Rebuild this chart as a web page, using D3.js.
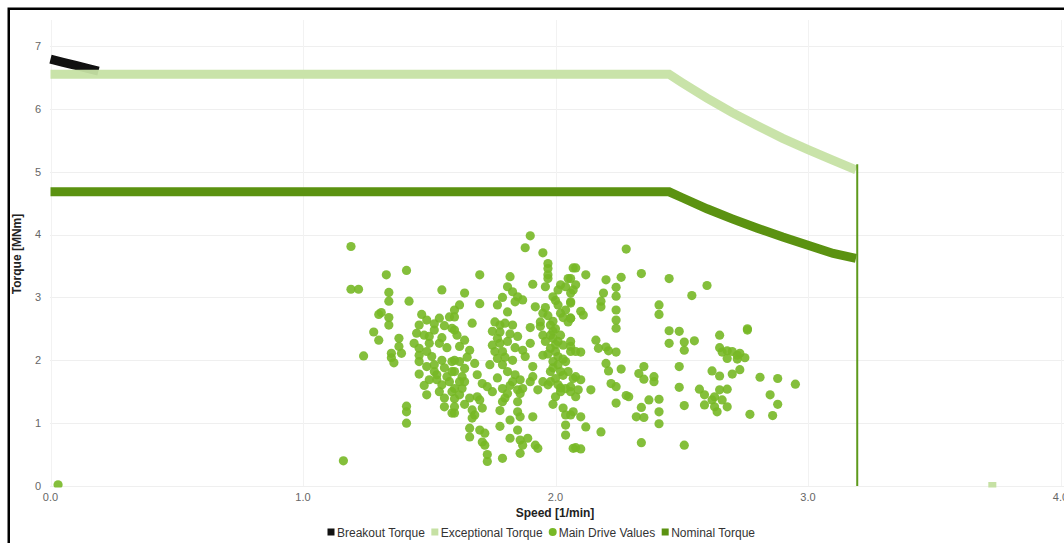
<!DOCTYPE html>
<html>
<head>
<meta charset="utf-8">
<script src="https://cdn.jsdelivr.net/npm/d3@7"></script>
<style>
  body { margin: 0; background: #fff; }
  text { font-family: "Liberation Sans", Arial, sans-serif; }
</style>
</head>
<body>
<div id="chart"></div>
<script>
// curve data
var breakoutSpeed = [0, 0.05, 0.1, 0.15, 0.19];
var breakoutTorque = [6.79, 6.74, 6.69, 6.64, 6.6];

var exceptionalSpeed = [0, 2.45, 2.5, 2.6, 2.7, 2.8, 2.9, 3.0, 3.1, 3.19];
var exceptionalTorque = [6.55, 6.55, 6.42, 6.17, 5.94, 5.73, 5.53, 5.35, 5.18, 5.03];
var exceptionalExtra = [[3.73, 0]];

var nominalSpeed = [0, 2.45, 2.5, 2.6, 2.7, 2.8, 2.9, 3.0, 3.1, 3.19];
var nominalTorque = [4.68, 4.68, 4.59, 4.41, 4.25, 4.10, 3.96, 3.83, 3.70, 3.62];
var limitLine = [[3.195, 0], [3.195, 5.12]];

var mainDrive = [
  [0.03,0.02],
  [1.19,3.81],[1.33,3.36],[1.41,3.43],[1.19,3.13],[1.22,3.13],[1.34,3.08],[1.34,2.94],[1.42,2.94],[1.55,3.12],[1.30,2.73],[1.31,2.76],[1.34,2.68],[1.34,2.56],[1.28,2.45],[1.30,2.32],[1.38,2.35],[1.24,2.07],[1.38,2.22],[1.35,2.11],[1.39,2.11],[1.35,2.04],[1.36,1.96],[1.41,1.27],[1.41,1.18],[1.41,1.00],[1.16,0.40],
  [1.47,2.73],[1.49,2.64],[1.46,2.56],[1.45,2.43],[1.48,2.40],[1.52,2.48],[1.54,2.67],[1.58,2.69],[1.59,2.51],[1.54,2.27],[1.50,2.27],[1.44,2.27],[1.46,2.19],[1.46,2.08],[1.46,1.98],[1.51,2.06],[1.52,1.93],[1.52,1.82],[1.46,1.78],[1.50,1.69],[1.53,1.69],[1.55,1.61],[1.59,1.98],[1.59,1.82],[1.58,1.66],[1.59,1.50],[1.54,1.50],[1.49,1.45],[1.56,1.40],[1.56,1.26],[1.59,1.16],
  [1.52,2.58],[1.56,2.55],[1.50,2.38],[1.55,2.36],[1.57,2.20],[1.49,2.14],[1.55,2.00],[1.49,1.90],[1.56,1.88],[1.48,1.60],[1.53,1.77],[1.57,1.74],
  [1.90,3.98],[1.88,3.79],[1.95,3.71],[1.97,3.54],[1.97,3.46],[2.07,3.47],[1.70,3.36],[1.82,3.33],[1.91,3.21],[1.97,3.36],[1.97,3.30],[1.96,3.17],[2.05,3.30],[2.02,3.20],[2.01,3.12],[2.04,3.17],[2.06,3.07],[1.64,3.07],[1.81,3.17],[1.83,3.09],[1.85,3.01],[1.84,2.93],[1.87,2.96],[1.79,3.00],[1.77,2.88],[1.81,2.77],[1.70,2.90],[1.62,2.88],[1.60,2.80],[1.60,2.69],[1.67,2.59],[1.90,2.52],[1.92,2.85],[1.95,2.75],[1.94,2.61],[1.99,3.01],[2.01,2.88],[2.02,2.75],[2.04,2.80],[2.06,2.91],[2.06,2.67],[2.05,2.61],
  [1.60,2.48],[1.61,2.40],[1.64,2.32],[1.66,2.16],[1.62,2.22],[1.60,2.00],[1.62,1.98],[1.64,1.87],[1.60,1.82],[1.63,1.74],[1.62,1.66],[1.64,1.66],[1.60,1.55],[1.62,1.45],[1.60,1.39],[1.60,1.26],[1.60,1.16],
  [1.65,2.05],[1.63,1.55],[1.66,1.40],[1.64,1.30],[1.68,1.95],
  [1.69,1.77],[1.71,1.63],[1.73,1.58],[1.69,1.42],[1.70,1.37],[1.67,1.21],[1.68,1.13],[1.71,1.24],[1.67,1.08],
  [1.66,0.92],[1.66,0.78],[1.70,0.89],[1.72,0.84],[1.71,0.70],[1.72,0.65],[1.73,0.50],[1.73,0.39],[1.79,0.44],
  [1.76,2.61],[1.78,2.56],[1.80,2.59],[1.83,2.56],[1.75,2.46],[1.77,2.35],[1.75,2.24],[1.78,2.27],[1.81,2.30],[1.85,2.38],[1.79,2.14],[1.77,2.03],[1.74,1.93],[1.79,1.93],[1.83,2.00],[1.81,1.82],[1.84,1.77],[1.86,1.69],[1.79,1.55],[1.81,1.47],[1.85,1.53],[1.87,1.55],[1.90,1.66],[1.91,1.74],[1.87,2.16],[1.90,2.27],[1.88,2.06],[1.91,1.90],[1.83,1.66],[1.85,1.34],[1.86,1.47],[1.79,1.34],[1.85,1.18],[1.86,1.10],[1.91,1.10],[1.85,0.89],[1.86,0.73],[1.82,0.76],[1.87,0.65],[1.86,0.52],[1.89,0.76],[1.92,0.65],[1.93,0.60],
  [1.78,2.45],[1.82,2.42],[1.76,2.14],[1.80,2.05],[1.84,2.20],[1.77,1.72],[1.82,1.60],[1.75,1.50],[1.80,1.40],[1.78,1.20],[1.82,1.05],[1.78,0.95],
  [1.98,2.56],[1.99,2.46],[1.99,2.35],[2.01,2.30],[1.98,2.19],[2.00,2.14],[2.01,2.06],[1.99,1.98],[2.01,1.93],[2.02,1.82],[1.98,1.82],[2.00,1.71],[2.01,1.61],[2.02,1.50],[1.97,1.61],[1.95,1.66],[1.93,1.53],[1.95,2.08],[1.95,2.40],[1.96,2.30],[2.03,2.24],[2.06,2.30],[2.06,2.14],[2.04,1.98],[2.05,1.82],[2.07,1.71],[2.04,1.55],[2.06,1.50],[2.03,1.24],[2.04,1.13],[2.04,0.97],[2.04,0.81],[2.07,1.18],[2.07,0.60],[1.94,2.54],
  [1.99,2.62],[2.00,2.50],[1.98,2.40],[2.02,2.40],[2.00,2.25],[1.97,2.10],[2.03,2.02],[1.99,1.88],[2.03,1.76],[1.98,1.66],[2.02,1.56],[1.97,2.71],[2.03,2.68],[2.00,2.95],[1.96,2.84],[2.00,1.42],[1.99,1.30],
  [2.28,3.77],[2.08,3.47],[2.12,3.36],[2.06,3.30],[2.08,3.20],[2.07,3.12],[2.20,3.28],[2.26,3.32],[2.24,3.16],[2.24,3.02],[2.19,3.07],[2.18,2.94],[2.18,2.85],[2.34,3.38],[2.45,3.30],[2.54,3.03],[2.41,2.88],[2.41,2.73],[2.06,2.93],[2.10,2.78],[2.11,2.72],[2.06,2.67],[2.24,2.80],[2.24,2.64],[2.24,2.51],[2.45,2.47],[2.49,2.46],[2.45,2.27],[2.51,2.29],[2.55,2.31],[2.51,2.16],[2.16,2.32],[2.17,2.19],[2.20,2.21],[2.21,2.15],[2.24,2.13],[2.06,2.22],[2.08,2.14],[2.10,2.13],[2.20,1.95],[2.21,1.83],[2.26,1.86],[2.35,1.90],[2.33,1.79],[2.35,1.70],[2.39,1.66],[2.39,1.74],[2.49,1.90],[2.49,1.57],[2.08,1.74],[2.10,1.69],[2.06,1.58],[2.09,1.53],[2.08,1.42],[2.14,1.53],[2.22,1.63],[2.24,1.58],[2.24,1.32],[2.28,1.44],[2.29,1.42],[2.37,1.37],[2.41,1.38],[2.34,1.25],[2.41,1.18],[2.32,1.10],[2.35,1.09],[2.41,0.99],[2.51,1.28],[2.06,1.13],[2.10,1.10],[2.12,0.94],[2.18,0.86],[2.08,0.61],[2.10,0.59],[2.34,0.69],[2.51,0.65],
  [2.60,3.19],[2.76,2.48],[2.76,2.50],[2.65,2.40],[2.65,2.20],[2.66,2.13],[2.68,2.15],[2.70,2.14],[2.73,2.11],[2.68,2.03],[2.72,2.02],[2.75,2.04],[2.72,2.08],[2.62,1.83],[2.65,1.75],[2.73,1.85],[2.70,1.78],[2.81,1.73],[2.88,1.71],[2.95,1.62],[2.57,1.54],[2.59,1.45],[2.63,1.42],[2.65,1.53],[2.68,1.54],[2.62,1.37],[2.66,1.37],[2.59,1.29],[2.63,1.26],[2.64,1.18],[2.68,1.26],[2.85,1.45],[2.88,1.30],[2.77,1.14],[2.86,1.12]
];

var xTicks = [0, 1, 2, 3, 4];
var yTicks = [0, 1, 2, 3, 4, 5, 6, 7];
var legendNames = ["Breakout Torque", "Exceptional Torque", "Main Drive Values", "Nominal Torque"];

var width = 1064,
    height = 543;

var colors = {
  "Breakout Torque": "#111111",
  "Exceptional Torque": "#c6e1a4",
  "Main Drive Values": "#77b826",
  "Nominal Torque": "#5b9211"
};

var x = d3.scaleLinear().domain([0, 4]).range([50.5, 1060.5]);
var y = d3.scaleLinear().domain([0, 7]).range([486, 46]);

var svg = d3.select("#chart")
  .append("svg")
  .attr("width", width)
  .attr("height", height);

// outer frame
svg.append("rect")
  .attr("x", 8.75).attr("y", 8.75)
  .attr("width", 1200).attr("height", 700)
  .attr("fill", "none")
  .attr("stroke", "#000")
  .attr("stroke-width", 2.5);

svg.append("clipPath").attr("id", "plot")
  .append("rect")
  .attr("x", 49).attr("y", 20)
  .attr("width", 1020).attr("height", 467.5);

// gridlines
svg.append("g").selectAll("line.h")
  .data(yTicks).enter().append("line")
  .attr("x1", 50).attr("x2", 1064)
  .attr("y1", function(d) { return Math.round(y(d)) + 0.5; })
  .attr("y2", function(d) { return Math.round(y(d)) + 0.5; })
  .attr("stroke", "#efefef");

svg.append("g").selectAll("line.v")
  .data(xTicks).enter().append("line")
  .attr("x1", function(d) { return Math.round(x(d)) + 0.5; })
  .attr("x2", function(d) { return Math.round(x(d)) + 0.5; })
  .attr("y1", 20).attr("y2", 486)
  .attr("stroke", "#f2f2f2");

// tick labels
svg.append("g").selectAll("text")
  .data(yTicks).enter().append("text")
  .attr("x", 41)
  .attr("y", function(d) { return y(d); })
  .attr("dy", "0.35em")
  .attr("text-anchor", "end")
  .attr("font-size", 11)
  .attr("fill", "#666")
  .text(function(d) { return d; });

svg.append("g").selectAll("text")
  .data(xTicks).enter().append("text")
  .attr("x", function(d) { return x(d); })
  .attr("y", 501)
  .attr("text-anchor", "middle")
  .attr("font-size", 11)
  .attr("fill", "#666")
  .text(function(d) { return d3.format(".1f")(d); });

// axis titles
svg.append("text")
  .attr("x", 555).attr("y", 517)
  .attr("text-anchor", "middle")
  .attr("font-size", 12).attr("font-weight", "bold")
  .attr("fill", "#222")
  .text("Speed [1/min]");

svg.append("text")
  .attr("transform", "translate(21,254) rotate(-90)")
  .attr("text-anchor", "middle")
  .attr("font-size", 12).attr("font-weight", "bold")
  .attr("fill", "#222")
  .text("Torque [MNm]");

var plot = svg.append("g").attr("clip-path", "url(#plot)");

var line = d3.line()
  .x(function(d) { return x(d[0]); })
  .y(function(d) { return y(d[1]); });

function zip(a, b) { return a.map(function(v, i) { return [v, b[i]]; }); }

plot.append("path")
  .attr("d", line(zip(breakoutSpeed, breakoutTorque)))
  .attr("fill", "none")
  .attr("stroke", colors["Breakout Torque"])
  .attr("stroke-width", 9);

plot.append("path")
  .attr("d", line(zip(exceptionalSpeed, exceptionalTorque)))
  .attr("fill", "none")
  .attr("stroke", colors["Exceptional Torque"])
  .attr("stroke-opacity", 0.95)
  .attr("stroke-width", 9);

plot.selectAll("rect.exc")
  .data(exceptionalExtra).enter().append("rect")
  .attr("x", function(d) { return x(d[0]) - 4; })
  .attr("y", function(d) { return y(d[1]) - 4; })
  .attr("width", 8).attr("height", 8)
  .attr("fill", colors["Exceptional Torque"]);

plot.selectAll("circle")
  .data(mainDrive).enter().append("circle")
  .attr("cx", function(d) { return x(d[0]); })
  .attr("cy", function(d) { return y(d[1]); })
  .attr("r", 4.6)
  .attr("fill", colors["Main Drive Values"])
  .attr("fill-opacity", 0.9);

plot.append("path")
  .attr("d", line(zip(nominalSpeed, nominalTorque)))
  .attr("fill", "none")
  .attr("stroke", colors["Nominal Torque"])
  .attr("stroke-width", 9);

plot.append("path")
  .attr("d", line(limitLine))
  .attr("fill", "none")
  .attr("stroke", "#5e9a1c")
  .attr("stroke-width", 2);

// legend
var legend = svg.append("g");
var lx = 327;
legendNames.forEach(function(name) {
  var g = legend.append("g");
  if (name === "Main Drive Values") {
    g.append("circle").attr("cx", lx + 4).attr("cy", 532).attr("r", 4)
      .attr("fill", colors[name]);
  } else {
    g.append("rect").attr("x", lx + 0.5).attr("y", 528.5).attr("width", 7).attr("height", 7)
      .attr("fill", colors[name]);
  }
  var t = g.append("text")
    .attr("x", lx + 10).attr("y", 536.5)
    .attr("font-size", 12)
    .attr("fill", "#333")
    .text(name);
  lx += 10 + t.node().getComputedTextLength() + 6;
});
</script>
</body>
</html>
